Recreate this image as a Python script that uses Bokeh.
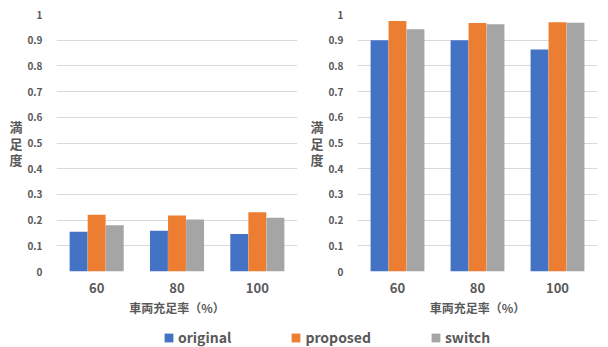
from bokeh.plotting import figure
from bokeh.layouts import column, row
from bokeh.models import FactorRange, Range1d, FixedTicker, Legend, LegendItem, ColumnDataSource
from bokeh.transform import dodge
from bokeh.embed import file_html
from bokeh.resources import INLINE

# --- data -------------------------------------------------------------
CATEGORIES = ["60", "80", "100"]          # 車両充足率 (%)
SERIES = ["original", "proposed", "switch"]
COLORS = ["#4472C4", "#ED7D31", "#A5A5A5"]

LEFT_ORIGINAL = [0.155, 0.159, 0.146]
LEFT_PROPOSED = [0.221, 0.218, 0.231]
LEFT_SWITCH = [0.180, 0.202, 0.209]

RIGHT_ORIGINAL = [0.900, 0.900, 0.864]
RIGHT_PROPOSED = [0.975, 0.967, 0.970]
RIGHT_SWITCH = [0.943, 0.962, 0.968]

Y_TICKS = [0, 0.1, 0.2, 0.3, 0.4, 0.5, 0.6, 0.7, 0.8, 0.9, 1]
Y_TICK_LABELS = ["0", "0.1", "0.2", "0.3", "0.4", "0.5", "0.6", "0.7", "0.8", "0.9", "1"]

X_TITLE = "車両充足率（%）"
Y_TITLE = "満\n足\n度"

FONT = "Noto Sans CJK JP"
TEXT_COLOR = "#595959"
GRID_COLOR = "#D9D9D9"

BAR_W = 0.223
OFFSETS = [-0.225, 0.0, 0.225]


def make_panel(series_values, b_left, b_right, b_top, b_bottom):
    src = ColumnDataSource(dict(cat=CATEGORIES,
                                **{name: vals for name, vals in zip(SERIES, series_values)}))
    p = figure(x_range=FactorRange(*CATEGORIES), y_range=Range1d(0, 1),
               width=304, height=320, output_backend="svg", toolbar_location=None,
               min_border_left=b_left, min_border_right=b_right,
               min_border_top=b_top, min_border_bottom=b_bottom)
    for name, color, off in zip(SERIES, COLORS, OFFSETS):
        p.vbar(x=dodge("cat", off, range=p.x_range), top=name, width=BAR_W,
               source=src, fill_color=color, line_color=None)

    p.outline_line_color = None
    p.background_fill_color = "white"
    p.border_fill_color = "white"
    p.xgrid.grid_line_color = None
    p.ygrid.grid_line_color = GRID_COLOR
    p.ygrid.grid_line_width = 1

    p.yaxis.ticker = FixedTicker(ticks=Y_TICKS)
    p.yaxis.major_label_overrides = {t: lab for t, lab in zip(Y_TICKS, Y_TICK_LABELS)}
    for ax in (p.xaxis[0], p.yaxis[0]):
        ax.axis_line_color = None
        ax.major_tick_line_color = None
        ax.minor_tick_line_color = None
        ax.major_label_text_font = FONT
        ax.major_label_text_font_style = "bold"
        ax.major_label_text_color = TEXT_COLOR
        ax.axis_label_text_font = FONT
        ax.axis_label_text_font_style = "bold"
        ax.axis_label_text_color = TEXT_COLOR
        ax.axis_label_text_font_size = "12px"

    p.yaxis.major_label_text_font_size = "10px"
    p.yaxis.major_label_standoff = 8
    p.yaxis.axis_label = Y_TITLE
    p.yaxis.axis_label_orientation = "horizontal"
    p.yaxis.axis_label_text_font_size = "13px"
    p.yaxis.axis_label_text_line_height = 0.85
    p.yaxis.axis_label_standoff = 2

    p.xaxis.major_label_text_font_size = "13px"
    p.xaxis.major_label_standoff = 5
    p.xaxis.axis_label = X_TITLE
    p.xaxis.axis_label_standoff = 3
    return p


left = make_panel([LEFT_ORIGINAL, LEFT_PROPOSED, LEFT_SWITCH], 56, 7, 14, 48)
right = make_panel([RIGHT_ORIGINAL, RIGHT_PROPOSED, RIGHT_SWITCH], 53, 11, 13, 49)

# shared legend strip under both panels; its bars sit outside the visible range
leg = figure(width=608, height=27, output_backend="svg", toolbar_location=None,
             x_range=Range1d(0, 1), y_range=Range1d(0, 1), min_border=0)
leg.axis.visible = False
leg.grid.visible = False
leg.outline_line_color = None
items = []
for name, color in zip(SERIES, COLORS):
    r = leg.vbar(x=[5], top=[1], width=0.1, fill_color=color, line_color=None)
    items.append(LegendItem(label=name, renderers=[r]))
legend = Legend(items=items, orientation="horizontal", location=(163, 0),
                glyph_width=11, glyph_height=11, label_standoff=4, spacing=59,
                padding=0, margin=0, border_line_color=None, background_fill_alpha=0,
                label_text_font=FONT, label_text_font_style="bold",
                label_text_font_size="14px", label_text_color=TEXT_COLOR)
leg.add_layout(legend, "center")

layout = column(row(left, right), leg)
open("out.html", "w").write(file_html(layout, INLINE))
